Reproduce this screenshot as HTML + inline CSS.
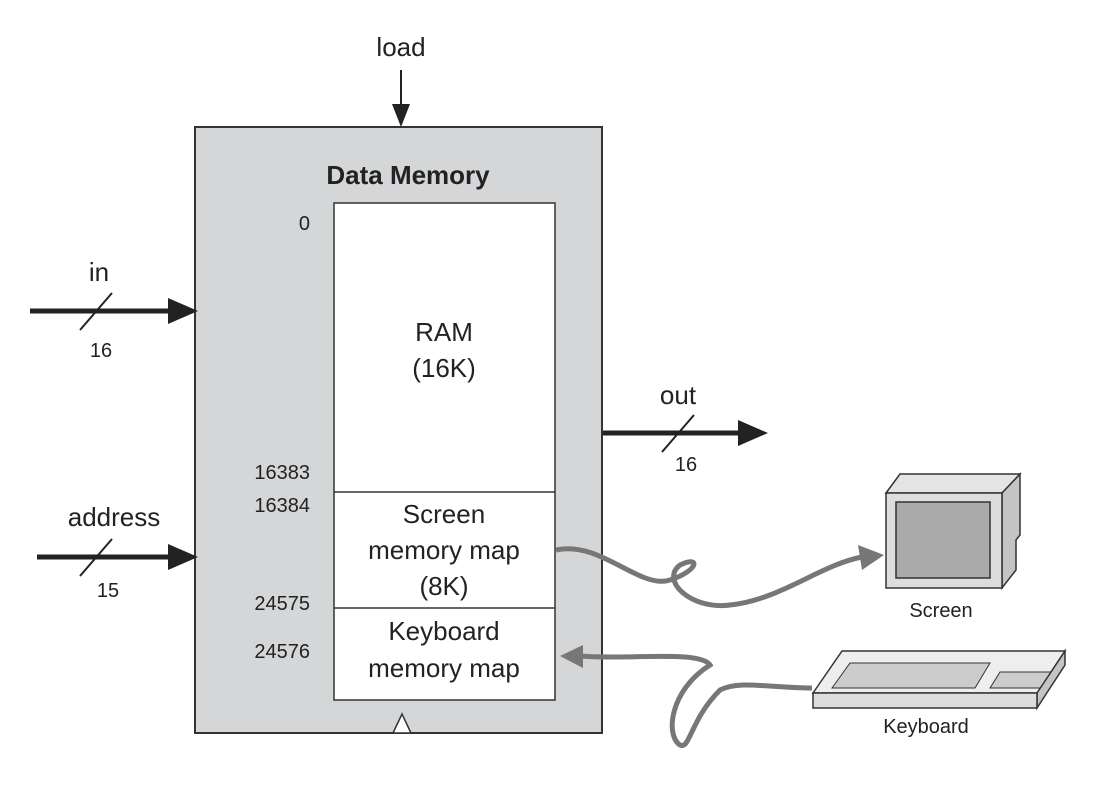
<!DOCTYPE html>
<html><head><style>body{margin:0;background:#fff}svg{display:block}text{font-family:"Liberation Sans",sans-serif;fill:#222}</style></head><body>
<svg width="1104" height="786" viewBox="0 0 1104 786" xmlns="http://www.w3.org/2000/svg">
<rect x="195" y="127" width="407" height="606" fill="#d4d6d8" stroke="#333" stroke-width="2"/>
<rect x="334" y="203" width="221" height="497" fill="#fff" stroke="#333" stroke-width="1.5"/>
<line x1="334" y1="492" x2="555" y2="492" stroke="#333" stroke-width="1.5"/>
<line x1="334" y1="608" x2="555" y2="608" stroke="#333" stroke-width="1.5"/>
<polygon points="393,733 402,714 411,733" fill="#fff" stroke="#333" stroke-width="1.5"/>
<text x="408" y="184" font-size="26" font-weight="bold" text-anchor="middle">Data Memory</text>
<text x="444" y="341" font-size="26" text-anchor="middle">RAM</text>
<text x="444" y="377" font-size="26" text-anchor="middle">(16K)</text>
<text x="444" y="523" font-size="26" text-anchor="middle">Screen</text>
<text x="444" y="559" font-size="26" text-anchor="middle">memory map</text>
<text x="444" y="595" font-size="26" text-anchor="middle">(8K)</text>
<text x="444" y="640" font-size="26" text-anchor="middle">Keyboard</text>
<text x="444" y="677" font-size="26" text-anchor="middle">memory map</text>
<g font-size="20" text-anchor="end">
<text x="310" y="230">0</text><text x="310" y="479">16383</text><text x="310" y="512">16384</text>
<text x="310" y="610">24575</text><text x="310" y="658">24576</text></g>
<text x="401" y="56" font-size="26" text-anchor="middle">load</text>
<line x1="401" y1="70" x2="401" y2="108" stroke="#222" stroke-width="2"/>
<polygon points="392,104 410,104 401,127" fill="#222"/>
<text x="99" y="281" font-size="26" text-anchor="middle">in</text>
<line x1="30" y1="311" x2="170" y2="311" stroke="#222" stroke-width="5"/>
<polygon points="168,298 198,311 168,324" fill="#222"/>
<line x1="80" y1="330" x2="112" y2="293" stroke="#222" stroke-width="2"/>
<text x="101" y="357" font-size="20" text-anchor="middle">16</text>
<text x="114" y="526" font-size="26" text-anchor="middle">address</text>
<line x1="37" y1="557" x2="170" y2="557" stroke="#222" stroke-width="5"/>
<polygon points="168,544 198,557 168,570" fill="#222"/>
<line x1="80" y1="576" x2="112" y2="539" stroke="#222" stroke-width="2"/>
<text x="108" y="597" font-size="20" text-anchor="middle">15</text>
<text x="678" y="404" font-size="26" text-anchor="middle">out</text>
<line x1="603" y1="433" x2="740" y2="433" stroke="#222" stroke-width="5"/>
<polygon points="738,420 768,433 738,446" fill="#222"/>
<line x1="662" y1="452" x2="694" y2="415" stroke="#222" stroke-width="2"/>
<text x="686" y="471" font-size="20" text-anchor="middle">16</text>
<path d="M556,550 C600,540 640,590 670,580 C700,570 700,555 680,565 C660,580 690,610 730,605 C780,600 820,565 862,557" fill="none" stroke="#777" stroke-width="5"/>
<polygon points="858,545 884,555 862,570" fill="#777"/>
<path d="M812,688 C770,688 740,680 720,690 C690,720 690,750 680,745 C665,735 670,690 710,665 C700,650 630,660 580,656" fill="none" stroke="#777" stroke-width="5"/>
<polygon points="583,645 560,656 583,668" fill="#777"/>
<polygon points="886,493 900,474 1020,474 1002,493" fill="#e4e4e4" stroke="#333" stroke-width="1.5"/>
<polygon points="1002,493 1020,474 1020,535 1016,540 1016,570 1002,588" fill="#c4c4c4" stroke="#333" stroke-width="1.5"/>
<rect x="886" y="493" width="116" height="95" fill="#ddd" stroke="#333" stroke-width="1.5"/>
<rect x="896" y="502" width="94" height="76" fill="#aaa" stroke="#333" stroke-width="1.5"/>
<text x="941" y="617" font-size="20" text-anchor="middle">Screen</text>
<polygon points="813,693 842,651 1065,651 1037,693" fill="#eee" stroke="#333" stroke-width="1.5"/>
<polygon points="832,688 850,663 990,663 975,688" fill="#ccc" stroke="#333" stroke-width="1"/>
<polygon points="990,688 1000,672 1055,672 1045,688" fill="#ccc" stroke="#333" stroke-width="1"/>
<polygon points="1037,693 1065,651 1065,665 1037,708" fill="#c4c4c4" stroke="#333" stroke-width="1.5"/>
<rect x="813" y="693" width="224" height="15" fill="#ddd" stroke="#333" stroke-width="1.5"/>
<text x="926" y="733" font-size="20" text-anchor="middle">Keyboard</text>
</svg></body></html>
